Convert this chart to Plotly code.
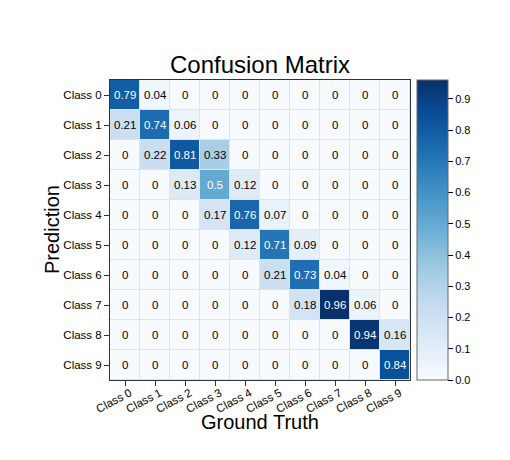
import plotly.graph_objects as go

classes = [f"Class {i}" for i in range(10)]
ground_truth = classes
prediction = classes
matrix = [
    [0.79, 0.04, 0, 0, 0, 0, 0, 0, 0, 0],
    [0.21, 0.74, 0.06, 0, 0, 0, 0, 0, 0, 0],
    [0, 0.22, 0.81, 0.33, 0, 0, 0, 0, 0, 0],
    [0, 0, 0.13, 0.5, 0.12, 0, 0, 0, 0, 0],
    [0, 0, 0, 0.17, 0.76, 0.07, 0, 0, 0, 0],
    [0, 0, 0, 0, 0.12, 0.71, 0.09, 0, 0, 0],
    [0, 0, 0, 0, 0, 0.21, 0.73, 0.04, 0, 0],
    [0, 0, 0, 0, 0, 0, 0.18, 0.96, 0.06, 0],
    [0, 0, 0, 0, 0, 0, 0, 0, 0.94, 0.16],
    [0, 0, 0, 0, 0, 0, 0, 0, 0, 0.84],
]
zmax = 0.96
FONT = "Liberation Sans, Arial, Helvetica, sans-serif"

fig = go.Figure(go.Heatmap(
    z=matrix, x=ground_truth, y=prediction,
    colorscale="Blues", zmin=0, zmax=zmax,
    xgap=1, ygap=1,
    colorbar=dict(
        x=1.023, xanchor="left", xpad=0, ypad=0,
        y=0.5, yanchor="middle", len=1, lenmode="fraction",
        thickness=31, outlinewidth=1, outlinecolor="#666",
        tickvals=[0, 0.1, 0.2, 0.3, 0.4, 0.5, 0.6, 0.7, 0.8, 0.9],
        tickformat=".1f", ticks="outside", ticklen=5, tickcolor="#000",
        tickfont=dict(size=11, family=FONT, color="#000"),
    ),
    hoverinfo="skip",
))

annotations = []
for r, row in enumerate(matrix):
    for c, v in enumerate(row):
        annotations.append(dict(
            x=ground_truth[c], y=prediction[r], text=f"{v:g}",
            showarrow=False,
            font=dict(size=11.5, family=FONT, color="white" if v >= 0.45 else "black"),
        ))

# axis titles placed as paper annotations
annotations.append(dict(
    text="Ground Truth", xref="paper", yref="paper", x=0.5, y=-(422 - 380) / 300,
    xanchor="center", yanchor="middle", showarrow=False,
    font=dict(size=20, family=FONT, color="#000"),
))
annotations.append(dict(
    text="Prediction", xref="paper", yref="paper", x=-(110 - 52) / 300, y=0.5,
    xanchor="center", yanchor="middle", showarrow=False, textangle=-90,
    font=dict(size=20, family=FONT, color="#000"),
))

fig.update_layout(
    width=510, height=460,
    margin=dict(l=110, r=100, t=80, b=80),
    paper_bgcolor="white", plot_bgcolor="#e3e3e3",
    font=dict(family=FONT, color="#000"),
    title=dict(text="Confusion Matrix", x=(110 + 150) / 510, xanchor="center",
               y=1 - 65 / 460, yanchor="middle",
               font=dict(size=24, family=FONT, color="#000")),
    annotations=annotations,
    xaxis=dict(
        tickangle=-28, ticks="outside", ticklen=5, tickcolor="#333",
        tickfont=dict(size=11.5, family=FONT), ticklabelstandoff=-4,
        ticklabelshift=5,
        showline=True, linecolor="#333", linewidth=1, mirror=True,
        showgrid=False, zeroline=False,
    ),
    yaxis=dict(
        autorange="reversed", ticks="outside", ticklen=5, tickcolor="#333",
        tickfont=dict(size=11.5, family=FONT),
        showline=True, linecolor="#333", linewidth=1, mirror=True,
        showgrid=False, zeroline=False,
    ),
)

fig.write_html("out.html")
